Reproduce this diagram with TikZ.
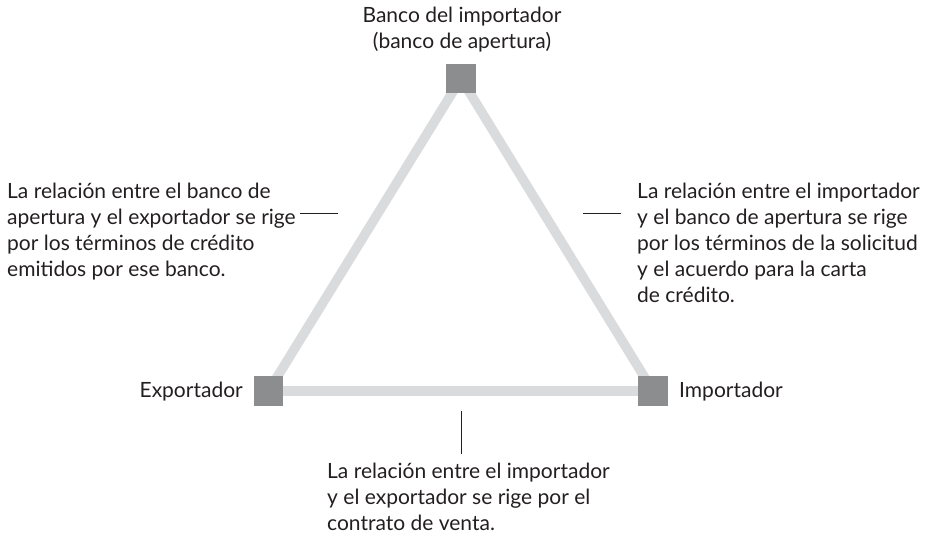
\documentclass[tikz,border=0pt]{standalone}
\usepackage{fontspec}
\setmainfont{Lato}
\usetikzlibrary{backgrounds}
\definecolor{sqgray}{RGB}{140,141,143}
\definecolor{edgegray}{RGB}{218,219,220}
\definecolor{ink}{RGB}{35,31,32}
\begin{document}
\begin{tikzpicture}[x=1pt,y=-1pt,
  sq/.style={fill=sqgray, minimum size=29.5pt, inner sep=0pt, draw=none},
  edge/.style={draw=edgegray, line width=9.5pt},
  lead/.style={draw=ink, line width=0.9pt},
  txt/.style={font=\fontsize{21}{26}\selectfont, inner sep=0pt, text=ink},
]
\useasboundingbox (0,0) rectangle (932,541);

% vertices
\node[sq] (bank) at (461,78.5) {};
\node[sq] (exp) at (268.5,391) {};
\node[sq] (imp) at (653,391) {};

% triangle sides
\begin{pgfonlayer}{background}
  \draw[edge] (bank.center) -- (exp.center);
  \draw[edge] (bank.center) -- (imp.center);
  \draw[edge] (exp.center) -- (imp.center);
\end{pgfonlayer}

% vertex labels (base anchor = baseline of the last line)
\node[txt, align=center, anchor=base] (banklbl) at (462,48)
  {Banco del importador\\(banco de apertura)};
\node[txt, anchor=base east] (explbl) at (243,397) {Exportador};
\node[txt, anchor=base west] (implbl) at (679,397) {Importador};

% left relation
\node[txt, align=left, anchor=base west] (leftrel) at (7,276)
  {La relación entre el banco de\\apertura y el exportador se rige\\por los términos de crédito\\emitidos por ese banco.};
\coordinate (la) at (300,213);
\coordinate (lb) at (338,213);
\draw[lead] (la) -- (lb);

% right relation
\node[txt, align=left, anchor=base west] (rightrel) at (637,302)
  {La relación entre el importador\\y el banco de apertura se rige\\por los términos de la solicitud\\y el acuerdo para la carta\\de crédito.};
\coordinate (ra) at (583,213);
\coordinate (rb) at (621,213);
\draw[lead] (ra) -- (rb);

% bottom relation
\coordinate (ba) at (461,411);
\coordinate (bb) at (461,454);
\draw[lead] (ba) -- (bb);
\node[txt, align=left, anchor=base west] (botrel) at (327,530)
  {La relación entre el importador\\y el exportador se rige por el\\contrato de venta.};
\end{tikzpicture}
\end{document}
